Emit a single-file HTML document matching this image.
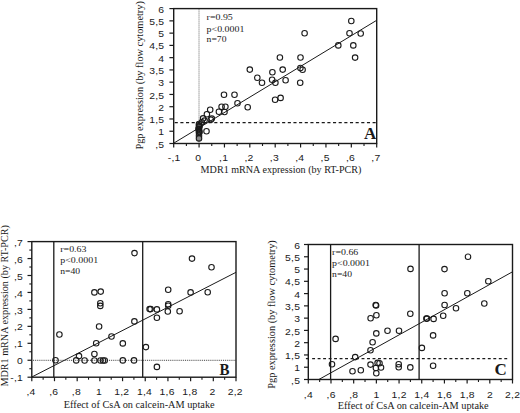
<!DOCTYPE html>
<html><head><meta charset="utf-8"><style>
html,body{margin:0;padding:0;background:#fff;}
svg{display:block;}
.tk{font-family:"Liberation Sans",sans-serif;font-size:8.8px;letter-spacing:0.2px;fill:#1a1a1a;}
.st{font-family:"Liberation Serif",serif;font-size:9px;fill:#1a1a1a;}
.ax{font-family:"Liberation Serif",serif;font-size:10px;fill:#1a1a1a;}
.big{font-family:"Liberation Serif",serif;font-size:17px;font-weight:bold;fill:#1a1a1a;}
</style></head><body>
<svg width="520" height="413" viewBox="0 0 520 413">
<rect width="520" height="413" fill="#fff"/>
<line x1="199.0" y1="8.6" x2="199.0" y2="143.5" stroke="#666" stroke-width="1" stroke-dasharray="1 1"/>
<line x1="174.7" y1="122.7" x2="375.8" y2="122.7" stroke="#1a1a1a" stroke-width="1.3" stroke-dasharray="3.1 2.554"/>
<line x1="173.7" y1="143.2" x2="376.7" y2="20.3" stroke="#1a1a1a" stroke-width="1"/>
<rect x="173.70" y="8.60" width="203.00" height="134.90" fill="none" stroke="#1a1a1a" stroke-width="1.4"/>
<line x1="169.40" y1="143.50" x2="173.70" y2="143.50" stroke="#1a1a1a" stroke-width="1.2"/>
<text transform="translate(164.30,147.60) scale(1.18,1)" text-anchor="end" class="tk">,5</text>
<line x1="169.40" y1="131.24" x2="173.70" y2="131.24" stroke="#1a1a1a" stroke-width="1.2"/>
<text transform="translate(164.30,135.34) scale(1.18,1)" text-anchor="end" class="tk">1</text>
<line x1="169.40" y1="118.97" x2="173.70" y2="118.97" stroke="#1a1a1a" stroke-width="1.2"/>
<text transform="translate(164.30,123.07) scale(1.18,1)" text-anchor="end" class="tk">1,5</text>
<line x1="169.40" y1="106.71" x2="173.70" y2="106.71" stroke="#1a1a1a" stroke-width="1.2"/>
<text transform="translate(164.30,110.81) scale(1.18,1)" text-anchor="end" class="tk">2</text>
<line x1="169.40" y1="94.45" x2="173.70" y2="94.45" stroke="#1a1a1a" stroke-width="1.2"/>
<text transform="translate(164.30,98.55) scale(1.18,1)" text-anchor="end" class="tk">2,5</text>
<line x1="169.40" y1="82.18" x2="173.70" y2="82.18" stroke="#1a1a1a" stroke-width="1.2"/>
<text transform="translate(164.30,86.28) scale(1.18,1)" text-anchor="end" class="tk">3</text>
<line x1="169.40" y1="69.92" x2="173.70" y2="69.92" stroke="#1a1a1a" stroke-width="1.2"/>
<text transform="translate(164.30,74.02) scale(1.18,1)" text-anchor="end" class="tk">3,5</text>
<line x1="169.40" y1="57.65" x2="173.70" y2="57.65" stroke="#1a1a1a" stroke-width="1.2"/>
<text transform="translate(164.30,61.75) scale(1.18,1)" text-anchor="end" class="tk">4</text>
<line x1="169.40" y1="45.39" x2="173.70" y2="45.39" stroke="#1a1a1a" stroke-width="1.2"/>
<text transform="translate(164.30,49.49) scale(1.18,1)" text-anchor="end" class="tk">4,5</text>
<line x1="169.40" y1="33.13" x2="173.70" y2="33.13" stroke="#1a1a1a" stroke-width="1.2"/>
<text transform="translate(164.30,37.23) scale(1.18,1)" text-anchor="end" class="tk">5</text>
<line x1="169.40" y1="20.86" x2="173.70" y2="20.86" stroke="#1a1a1a" stroke-width="1.2"/>
<text transform="translate(164.30,24.96) scale(1.18,1)" text-anchor="end" class="tk">5,5</text>
<line x1="169.40" y1="8.60" x2="173.70" y2="8.60" stroke="#1a1a1a" stroke-width="1.2"/>
<text transform="translate(164.30,12.70) scale(1.18,1)" text-anchor="end" class="tk">6</text>
<line x1="173.70" y1="143.50" x2="173.70" y2="147.50" stroke="#1a1a1a" stroke-width="1.2"/>
<text transform="translate(174.10,161.40) scale(1.18,1)" text-anchor="middle" class="tk">-,1</text>
<line x1="199.07" y1="143.50" x2="199.07" y2="147.50" stroke="#1a1a1a" stroke-width="1.2"/>
<text transform="translate(198.27,161.40) scale(1.18,1)" text-anchor="middle" class="tk">0</text>
<line x1="224.45" y1="143.50" x2="224.45" y2="147.50" stroke="#1a1a1a" stroke-width="1.2"/>
<text transform="translate(223.65,161.40) scale(1.18,1)" text-anchor="middle" class="tk">,1</text>
<line x1="249.82" y1="143.50" x2="249.82" y2="147.50" stroke="#1a1a1a" stroke-width="1.2"/>
<text transform="translate(249.02,161.40) scale(1.18,1)" text-anchor="middle" class="tk">,2</text>
<line x1="275.20" y1="143.50" x2="275.20" y2="147.50" stroke="#1a1a1a" stroke-width="1.2"/>
<text transform="translate(274.40,161.40) scale(1.18,1)" text-anchor="middle" class="tk">,3</text>
<line x1="300.57" y1="143.50" x2="300.57" y2="147.50" stroke="#1a1a1a" stroke-width="1.2"/>
<text transform="translate(299.77,161.40) scale(1.18,1)" text-anchor="middle" class="tk">,4</text>
<line x1="325.95" y1="143.50" x2="325.95" y2="147.50" stroke="#1a1a1a" stroke-width="1.2"/>
<text transform="translate(325.15,161.40) scale(1.18,1)" text-anchor="middle" class="tk">,5</text>
<line x1="351.32" y1="143.50" x2="351.32" y2="147.50" stroke="#1a1a1a" stroke-width="1.2"/>
<text transform="translate(350.52,161.40) scale(1.18,1)" text-anchor="middle" class="tk">,6</text>
<line x1="376.70" y1="143.50" x2="376.70" y2="147.50" stroke="#1a1a1a" stroke-width="1.2"/>
<text transform="translate(375.90,161.40) scale(1.18,1)" text-anchor="middle" class="tk">,7</text>
<line x1="186.39" y1="143.50" x2="186.39" y2="146.00" stroke="#1a1a1a" stroke-width="1.1"/>
<line x1="211.76" y1="143.50" x2="211.76" y2="146.00" stroke="#1a1a1a" stroke-width="1.1"/>
<line x1="237.14" y1="143.50" x2="237.14" y2="146.00" stroke="#1a1a1a" stroke-width="1.1"/>
<line x1="262.51" y1="143.50" x2="262.51" y2="146.00" stroke="#1a1a1a" stroke-width="1.1"/>
<line x1="287.89" y1="143.50" x2="287.89" y2="146.00" stroke="#1a1a1a" stroke-width="1.1"/>
<line x1="313.26" y1="143.50" x2="313.26" y2="146.00" stroke="#1a1a1a" stroke-width="1.1"/>
<line x1="338.64" y1="143.50" x2="338.64" y2="146.00" stroke="#1a1a1a" stroke-width="1.1"/>
<line x1="364.01" y1="143.50" x2="364.01" y2="146.00" stroke="#1a1a1a" stroke-width="1.1"/>
<text x="364.0" y="139.1" class="big">A</text>
<text x="206.6" y="20.4" class="st" textLength="26.2" lengthAdjust="spacingAndGlyphs">r=0.95</text>
<text x="206.6" y="31.8" class="st" textLength="37.8" lengthAdjust="spacingAndGlyphs">p&lt;0.0001</text>
<text x="206.6" y="42.4" class="st" textLength="19.9" lengthAdjust="spacingAndGlyphs">n=70</text>
<text x="200.6" y="172.8" class="ax" textLength="160.8" lengthAdjust="spacingAndGlyphs">MDR1 mRNA expression (by RT-PCR)</text>
<text transform="translate(142.7,149.6) rotate(-90)" class="ax" textLength="148.5" lengthAdjust="spacingAndGlyphs">Pgp expression (by flow cytometry)</text>
<line x1="33.0" y1="360.3" x2="236.0" y2="360.3" stroke="#444" stroke-width="1" stroke-dasharray="1 0.9"/>
<line x1="53.8" y1="241.6" x2="53.8" y2="377.2" stroke="#1a1a1a" stroke-width="1.3"/>
<line x1="142.7" y1="241.6" x2="142.7" y2="377.2" stroke="#1a1a1a" stroke-width="1.3"/>
<line x1="31.8" y1="377.0" x2="236.0" y2="272.3" stroke="#1a1a1a" stroke-width="1"/>
<rect x="31.80" y="241.60" width="204.20" height="135.60" fill="none" stroke="#1a1a1a" stroke-width="1.4"/>
<line x1="27.50" y1="377.20" x2="31.80" y2="377.20" stroke="#1a1a1a" stroke-width="1.2"/>
<text transform="translate(23.00,381.30) scale(1.18,1)" text-anchor="end" class="tk">-,1</text>
<line x1="27.50" y1="360.25" x2="31.80" y2="360.25" stroke="#1a1a1a" stroke-width="1.2"/>
<text transform="translate(23.00,364.35) scale(1.18,1)" text-anchor="end" class="tk">0</text>
<line x1="27.50" y1="343.30" x2="31.80" y2="343.30" stroke="#1a1a1a" stroke-width="1.2"/>
<text transform="translate(23.00,347.40) scale(1.18,1)" text-anchor="end" class="tk">,1</text>
<line x1="27.50" y1="326.35" x2="31.80" y2="326.35" stroke="#1a1a1a" stroke-width="1.2"/>
<text transform="translate(23.00,330.45) scale(1.18,1)" text-anchor="end" class="tk">,2</text>
<line x1="27.50" y1="309.40" x2="31.80" y2="309.40" stroke="#1a1a1a" stroke-width="1.2"/>
<text transform="translate(23.00,313.50) scale(1.18,1)" text-anchor="end" class="tk">,3</text>
<line x1="27.50" y1="292.45" x2="31.80" y2="292.45" stroke="#1a1a1a" stroke-width="1.2"/>
<text transform="translate(23.00,296.55) scale(1.18,1)" text-anchor="end" class="tk">,4</text>
<line x1="27.50" y1="275.50" x2="31.80" y2="275.50" stroke="#1a1a1a" stroke-width="1.2"/>
<text transform="translate(23.00,279.60) scale(1.18,1)" text-anchor="end" class="tk">,5</text>
<line x1="27.50" y1="258.55" x2="31.80" y2="258.55" stroke="#1a1a1a" stroke-width="1.2"/>
<text transform="translate(23.00,262.65) scale(1.18,1)" text-anchor="end" class="tk">,6</text>
<line x1="27.50" y1="241.60" x2="31.80" y2="241.60" stroke="#1a1a1a" stroke-width="1.2"/>
<text transform="translate(23.00,245.70) scale(1.18,1)" text-anchor="end" class="tk">,7</text>
<line x1="29.30" y1="368.72" x2="31.80" y2="368.72" stroke="#1a1a1a" stroke-width="1.1"/>
<line x1="29.30" y1="351.77" x2="31.80" y2="351.77" stroke="#1a1a1a" stroke-width="1.1"/>
<line x1="29.30" y1="334.82" x2="31.80" y2="334.82" stroke="#1a1a1a" stroke-width="1.1"/>
<line x1="29.30" y1="317.88" x2="31.80" y2="317.88" stroke="#1a1a1a" stroke-width="1.1"/>
<line x1="29.30" y1="300.93" x2="31.80" y2="300.93" stroke="#1a1a1a" stroke-width="1.1"/>
<line x1="29.30" y1="283.97" x2="31.80" y2="283.97" stroke="#1a1a1a" stroke-width="1.1"/>
<line x1="29.30" y1="267.02" x2="31.80" y2="267.02" stroke="#1a1a1a" stroke-width="1.1"/>
<line x1="29.30" y1="250.07" x2="31.80" y2="250.07" stroke="#1a1a1a" stroke-width="1.1"/>
<line x1="31.80" y1="377.20" x2="31.80" y2="381.20" stroke="#1a1a1a" stroke-width="1.2"/>
<text transform="translate(31.00,395.00) scale(1.18,1)" text-anchor="middle" class="tk">,4</text>
<line x1="54.49" y1="377.20" x2="54.49" y2="381.20" stroke="#1a1a1a" stroke-width="1.2"/>
<text transform="translate(53.69,395.00) scale(1.18,1)" text-anchor="middle" class="tk">,6</text>
<line x1="77.18" y1="377.20" x2="77.18" y2="381.20" stroke="#1a1a1a" stroke-width="1.2"/>
<text transform="translate(76.38,395.00) scale(1.18,1)" text-anchor="middle" class="tk">,8</text>
<line x1="99.87" y1="377.20" x2="99.87" y2="381.20" stroke="#1a1a1a" stroke-width="1.2"/>
<text transform="translate(99.07,395.00) scale(1.18,1)" text-anchor="middle" class="tk">1</text>
<line x1="122.56" y1="377.20" x2="122.56" y2="381.20" stroke="#1a1a1a" stroke-width="1.2"/>
<text transform="translate(121.76,395.00) scale(1.18,1)" text-anchor="middle" class="tk">1,2</text>
<line x1="145.24" y1="377.20" x2="145.24" y2="381.20" stroke="#1a1a1a" stroke-width="1.2"/>
<text transform="translate(144.44,395.00) scale(1.18,1)" text-anchor="middle" class="tk">1,4</text>
<line x1="167.93" y1="377.20" x2="167.93" y2="381.20" stroke="#1a1a1a" stroke-width="1.2"/>
<text transform="translate(167.13,395.00) scale(1.18,1)" text-anchor="middle" class="tk">1,6</text>
<line x1="190.62" y1="377.20" x2="190.62" y2="381.20" stroke="#1a1a1a" stroke-width="1.2"/>
<text transform="translate(189.82,395.00) scale(1.18,1)" text-anchor="middle" class="tk">1,8</text>
<line x1="213.31" y1="377.20" x2="213.31" y2="381.20" stroke="#1a1a1a" stroke-width="1.2"/>
<text transform="translate(212.51,395.00) scale(1.18,1)" text-anchor="middle" class="tk">2</text>
<line x1="236.00" y1="377.20" x2="236.00" y2="381.20" stroke="#1a1a1a" stroke-width="1.2"/>
<text transform="translate(235.20,395.00) scale(1.18,1)" text-anchor="middle" class="tk">2,2</text>
<line x1="43.14" y1="377.20" x2="43.14" y2="379.70" stroke="#1a1a1a" stroke-width="1.1"/>
<line x1="65.83" y1="377.20" x2="65.83" y2="379.70" stroke="#1a1a1a" stroke-width="1.1"/>
<line x1="88.52" y1="377.20" x2="88.52" y2="379.70" stroke="#1a1a1a" stroke-width="1.1"/>
<line x1="111.21" y1="377.20" x2="111.21" y2="379.70" stroke="#1a1a1a" stroke-width="1.1"/>
<line x1="133.90" y1="377.20" x2="133.90" y2="379.70" stroke="#1a1a1a" stroke-width="1.1"/>
<line x1="156.59" y1="377.20" x2="156.59" y2="379.70" stroke="#1a1a1a" stroke-width="1.1"/>
<line x1="179.28" y1="377.20" x2="179.28" y2="379.70" stroke="#1a1a1a" stroke-width="1.1"/>
<line x1="201.97" y1="377.20" x2="201.97" y2="379.70" stroke="#1a1a1a" stroke-width="1.1"/>
<line x1="224.66" y1="377.20" x2="224.66" y2="379.70" stroke="#1a1a1a" stroke-width="1.1"/>
<text x="219.6" y="375.0" class="big" textLength="10" lengthAdjust="spacingAndGlyphs">B</text>
<text x="60.3" y="251.7" class="st" textLength="26.2" lengthAdjust="spacingAndGlyphs">r=0.63</text>
<text x="60.3" y="263.0" class="st" textLength="37.8" lengthAdjust="spacingAndGlyphs">p&lt;0.0001</text>
<text x="60.3" y="274.3" class="st" textLength="19.9" lengthAdjust="spacingAndGlyphs">n=40</text>
<text x="63.8" y="407.6" class="ax" textLength="150.8" lengthAdjust="spacingAndGlyphs">Effect of CsA on calcein-AM uptake</text>
<text transform="translate(8.4,386.6) rotate(-90)" class="ax" textLength="161.5" lengthAdjust="spacingAndGlyphs">MDR1 mRNA expression (by RT-PCR)</text>
<line x1="312.15" y1="358.6" x2="507.3" y2="358.6" stroke="#1a1a1a" stroke-width="1.3" stroke-dasharray="2.9 2.59"/>
<line x1="305.9" y1="358.6" x2="308.3" y2="358.6" stroke="#1a1a1a" stroke-width="1.3"/>
<line x1="330.6" y1="244.5" x2="330.6" y2="379.5" stroke="#1a1a1a" stroke-width="1.3"/>
<line x1="419.1" y1="244.5" x2="419.1" y2="379.5" stroke="#1a1a1a" stroke-width="1.3"/>
<line x1="319.0" y1="379.4" x2="512.5" y2="271.8" stroke="#1a1a1a" stroke-width="1"/>
<rect x="308.30" y="244.50" width="204.20" height="135.00" fill="none" stroke="#1a1a1a" stroke-width="1.4"/>
<line x1="304.00" y1="379.50" x2="308.30" y2="379.50" stroke="#1a1a1a" stroke-width="1.2"/>
<text transform="translate(300.20,383.60) scale(1.18,1)" text-anchor="end" class="tk">,5</text>
<line x1="304.00" y1="367.23" x2="308.30" y2="367.23" stroke="#1a1a1a" stroke-width="1.2"/>
<text transform="translate(300.20,371.33) scale(1.18,1)" text-anchor="end" class="tk">1</text>
<line x1="304.00" y1="354.95" x2="308.30" y2="354.95" stroke="#1a1a1a" stroke-width="1.2"/>
<text transform="translate(300.20,359.05) scale(1.18,1)" text-anchor="end" class="tk">1,5</text>
<line x1="304.00" y1="342.68" x2="308.30" y2="342.68" stroke="#1a1a1a" stroke-width="1.2"/>
<text transform="translate(300.20,346.78) scale(1.18,1)" text-anchor="end" class="tk">2</text>
<line x1="304.00" y1="330.41" x2="308.30" y2="330.41" stroke="#1a1a1a" stroke-width="1.2"/>
<text transform="translate(300.20,334.51) scale(1.18,1)" text-anchor="end" class="tk">2,5</text>
<line x1="304.00" y1="318.14" x2="308.30" y2="318.14" stroke="#1a1a1a" stroke-width="1.2"/>
<text transform="translate(300.20,322.24) scale(1.18,1)" text-anchor="end" class="tk">3</text>
<line x1="304.00" y1="305.86" x2="308.30" y2="305.86" stroke="#1a1a1a" stroke-width="1.2"/>
<text transform="translate(300.20,309.96) scale(1.18,1)" text-anchor="end" class="tk">3,5</text>
<line x1="304.00" y1="293.59" x2="308.30" y2="293.59" stroke="#1a1a1a" stroke-width="1.2"/>
<text transform="translate(300.20,297.69) scale(1.18,1)" text-anchor="end" class="tk">4</text>
<line x1="304.00" y1="281.32" x2="308.30" y2="281.32" stroke="#1a1a1a" stroke-width="1.2"/>
<text transform="translate(300.20,285.42) scale(1.18,1)" text-anchor="end" class="tk">4,5</text>
<line x1="304.00" y1="269.05" x2="308.30" y2="269.05" stroke="#1a1a1a" stroke-width="1.2"/>
<text transform="translate(300.20,273.15) scale(1.18,1)" text-anchor="end" class="tk">5</text>
<line x1="304.00" y1="256.77" x2="308.30" y2="256.77" stroke="#1a1a1a" stroke-width="1.2"/>
<text transform="translate(300.20,260.87) scale(1.18,1)" text-anchor="end" class="tk">5,5</text>
<line x1="304.00" y1="244.50" x2="308.30" y2="244.50" stroke="#1a1a1a" stroke-width="1.2"/>
<text transform="translate(300.20,248.60) scale(1.18,1)" text-anchor="end" class="tk">6</text>
<line x1="308.30" y1="379.50" x2="308.30" y2="383.50" stroke="#1a1a1a" stroke-width="1.2"/>
<text transform="translate(308.40,397.60) scale(1.18,1)" text-anchor="middle" class="tk">,4</text>
<line x1="330.99" y1="379.50" x2="330.99" y2="383.50" stroke="#1a1a1a" stroke-width="1.2"/>
<text transform="translate(331.09,397.60) scale(1.18,1)" text-anchor="middle" class="tk">,6</text>
<line x1="353.68" y1="379.50" x2="353.68" y2="383.50" stroke="#1a1a1a" stroke-width="1.2"/>
<text transform="translate(353.78,397.60) scale(1.18,1)" text-anchor="middle" class="tk">,8</text>
<line x1="376.37" y1="379.50" x2="376.37" y2="383.50" stroke="#1a1a1a" stroke-width="1.2"/>
<text transform="translate(376.47,397.60) scale(1.18,1)" text-anchor="middle" class="tk">1</text>
<line x1="399.06" y1="379.50" x2="399.06" y2="383.50" stroke="#1a1a1a" stroke-width="1.2"/>
<text transform="translate(399.16,397.60) scale(1.18,1)" text-anchor="middle" class="tk">1,2</text>
<line x1="421.74" y1="379.50" x2="421.74" y2="383.50" stroke="#1a1a1a" stroke-width="1.2"/>
<text transform="translate(421.84,397.60) scale(1.18,1)" text-anchor="middle" class="tk">1,4</text>
<line x1="444.43" y1="379.50" x2="444.43" y2="383.50" stroke="#1a1a1a" stroke-width="1.2"/>
<text transform="translate(444.53,397.60) scale(1.18,1)" text-anchor="middle" class="tk">1,6</text>
<line x1="467.12" y1="379.50" x2="467.12" y2="383.50" stroke="#1a1a1a" stroke-width="1.2"/>
<text transform="translate(467.22,397.60) scale(1.18,1)" text-anchor="middle" class="tk">1,8</text>
<line x1="489.81" y1="379.50" x2="489.81" y2="383.50" stroke="#1a1a1a" stroke-width="1.2"/>
<text transform="translate(489.91,397.60) scale(1.18,1)" text-anchor="middle" class="tk">2</text>
<line x1="512.50" y1="379.50" x2="512.50" y2="383.50" stroke="#1a1a1a" stroke-width="1.2"/>
<text transform="translate(512.60,397.60) scale(1.18,1)" text-anchor="middle" class="tk">2,2</text>
<line x1="319.64" y1="379.50" x2="319.64" y2="382.00" stroke="#1a1a1a" stroke-width="1.1"/>
<line x1="342.33" y1="379.50" x2="342.33" y2="382.00" stroke="#1a1a1a" stroke-width="1.1"/>
<line x1="365.02" y1="379.50" x2="365.02" y2="382.00" stroke="#1a1a1a" stroke-width="1.1"/>
<line x1="387.71" y1="379.50" x2="387.71" y2="382.00" stroke="#1a1a1a" stroke-width="1.1"/>
<line x1="410.40" y1="379.50" x2="410.40" y2="382.00" stroke="#1a1a1a" stroke-width="1.1"/>
<line x1="433.09" y1="379.50" x2="433.09" y2="382.00" stroke="#1a1a1a" stroke-width="1.1"/>
<line x1="455.78" y1="379.50" x2="455.78" y2="382.00" stroke="#1a1a1a" stroke-width="1.1"/>
<line x1="478.47" y1="379.50" x2="478.47" y2="382.00" stroke="#1a1a1a" stroke-width="1.1"/>
<line x1="501.16" y1="379.50" x2="501.16" y2="382.00" stroke="#1a1a1a" stroke-width="1.1"/>
<text x="494.6" y="375.2" class="big">C</text>
<text x="332.1" y="254.7" class="st" textLength="26.2" lengthAdjust="spacingAndGlyphs">r=0.66</text>
<text x="332.1" y="266.0" class="st" textLength="37.8" lengthAdjust="spacingAndGlyphs">p&lt;0.0001</text>
<text x="332.1" y="277.3" class="st" textLength="19.9" lengthAdjust="spacingAndGlyphs">n=40</text>
<text x="337.7" y="408.5" class="ax" textLength="151" lengthAdjust="spacingAndGlyphs">Effect of CsA on calcein-AM uptake</text>
<text transform="translate(275.3,388.7) rotate(-90)" class="ax" textLength="148.5" lengthAdjust="spacingAndGlyphs">Pgp expression (by flow cytometry)</text>
<circle cx="199.0" cy="124.0" r="2.75" fill="none" stroke="#1a1a1a" stroke-width="1.1"/>
<circle cx="199.0" cy="125.5" r="2.75" fill="none" stroke="#1a1a1a" stroke-width="1.1"/>
<circle cx="199.0" cy="127.0" r="2.75" fill="none" stroke="#1a1a1a" stroke-width="1.1"/>
<circle cx="199.0" cy="128.5" r="2.75" fill="none" stroke="#1a1a1a" stroke-width="1.1"/>
<circle cx="199.0" cy="130.0" r="2.75" fill="none" stroke="#1a1a1a" stroke-width="1.1"/>
<circle cx="199.0" cy="131.5" r="2.75" fill="none" stroke="#1a1a1a" stroke-width="1.1"/>
<circle cx="199.0" cy="133.0" r="2.75" fill="none" stroke="#1a1a1a" stroke-width="1.1"/>
<circle cx="199.6" cy="126.0" r="2.75" fill="none" stroke="#1a1a1a" stroke-width="1.1"/>
<circle cx="198.5" cy="129.0" r="2.75" fill="none" stroke="#1a1a1a" stroke-width="1.1"/>
<circle cx="199.5" cy="132.0" r="2.75" fill="none" stroke="#1a1a1a" stroke-width="1.1"/>
<circle cx="199.0" cy="135.8" r="2.75" fill="none" stroke="#1a1a1a" stroke-width="1.1"/>
<circle cx="199.0" cy="138.4" r="2.75" fill="#8a8a8a" stroke="#1a1a1a" stroke-width="1.1"/>
<circle cx="210.2" cy="109.8" r="2.75" fill="none" stroke="#1a1a1a" stroke-width="1.1"/>
<circle cx="206.9" cy="114.3" r="2.75" fill="none" stroke="#1a1a1a" stroke-width="1.1"/>
<circle cx="203.1" cy="118.4" r="2.75" fill="none" stroke="#1a1a1a" stroke-width="1.1"/>
<circle cx="204.5" cy="120.6" r="2.75" fill="none" stroke="#1a1a1a" stroke-width="1.1"/>
<circle cx="211.8" cy="118.6" r="2.75" fill="none" stroke="#1a1a1a" stroke-width="1.1"/>
<circle cx="210.8" cy="119.8" r="2.75" fill="none" stroke="#1a1a1a" stroke-width="1.1"/>
<circle cx="206.5" cy="131.3" r="2.75" fill="none" stroke="#1a1a1a" stroke-width="1.1"/>
<circle cx="201.8" cy="122.3" r="2.75" fill="none" stroke="#1a1a1a" stroke-width="1.1"/>
<circle cx="218.9" cy="111.8" r="2.75" fill="none" stroke="#1a1a1a" stroke-width="1.1"/>
<circle cx="221.6" cy="106.7" r="2.75" fill="none" stroke="#1a1a1a" stroke-width="1.1"/>
<circle cx="225.4" cy="106.7" r="2.75" fill="none" stroke="#1a1a1a" stroke-width="1.1"/>
<circle cx="224.5" cy="112.0" r="2.75" fill="none" stroke="#1a1a1a" stroke-width="1.1"/>
<circle cx="224.0" cy="94.8" r="2.75" fill="none" stroke="#1a1a1a" stroke-width="1.1"/>
<circle cx="234.5" cy="94.8" r="2.75" fill="none" stroke="#1a1a1a" stroke-width="1.1"/>
<circle cx="237.5" cy="103.3" r="2.75" fill="none" stroke="#1a1a1a" stroke-width="1.1"/>
<circle cx="247.7" cy="107.2" r="2.75" fill="none" stroke="#1a1a1a" stroke-width="1.1"/>
<circle cx="249.8" cy="69.6" r="2.75" fill="none" stroke="#1a1a1a" stroke-width="1.1"/>
<circle cx="257.3" cy="77.8" r="2.75" fill="none" stroke="#1a1a1a" stroke-width="1.1"/>
<circle cx="262.0" cy="82.7" r="2.75" fill="none" stroke="#1a1a1a" stroke-width="1.1"/>
<circle cx="272.4" cy="72.3" r="2.75" fill="none" stroke="#1a1a1a" stroke-width="1.1"/>
<circle cx="272.1" cy="79.8" r="2.75" fill="none" stroke="#1a1a1a" stroke-width="1.1"/>
<circle cx="275.4" cy="82.8" r="2.75" fill="none" stroke="#1a1a1a" stroke-width="1.1"/>
<circle cx="282.7" cy="69.6" r="2.75" fill="none" stroke="#1a1a1a" stroke-width="1.1"/>
<circle cx="285.6" cy="80.2" r="2.75" fill="none" stroke="#1a1a1a" stroke-width="1.1"/>
<circle cx="275.1" cy="99.8" r="2.75" fill="none" stroke="#1a1a1a" stroke-width="1.1"/>
<circle cx="280.6" cy="97.9" r="2.75" fill="none" stroke="#1a1a1a" stroke-width="1.1"/>
<circle cx="279.9" cy="57.5" r="2.75" fill="none" stroke="#1a1a1a" stroke-width="1.1"/>
<circle cx="300.5" cy="57.5" r="2.75" fill="none" stroke="#1a1a1a" stroke-width="1.1"/>
<circle cx="300.4" cy="68.0" r="2.75" fill="none" stroke="#1a1a1a" stroke-width="1.1"/>
<circle cx="302.6" cy="69.8" r="2.75" fill="none" stroke="#1a1a1a" stroke-width="1.1"/>
<circle cx="300.2" cy="82.8" r="2.75" fill="none" stroke="#1a1a1a" stroke-width="1.1"/>
<circle cx="304.6" cy="33.2" r="2.75" fill="none" stroke="#1a1a1a" stroke-width="1.1"/>
<circle cx="351.3" cy="21.0" r="2.75" fill="none" stroke="#1a1a1a" stroke-width="1.1"/>
<circle cx="349.5" cy="33.2" r="2.75" fill="none" stroke="#1a1a1a" stroke-width="1.1"/>
<circle cx="360.7" cy="33.5" r="2.75" fill="none" stroke="#1a1a1a" stroke-width="1.1"/>
<circle cx="338.3" cy="45.4" r="2.75" fill="none" stroke="#1a1a1a" stroke-width="1.1"/>
<circle cx="353.3" cy="45.4" r="2.75" fill="none" stroke="#1a1a1a" stroke-width="1.1"/>
<circle cx="355.1" cy="57.6" r="2.75" fill="none" stroke="#1a1a1a" stroke-width="1.1"/>
<circle cx="59.4" cy="334.5" r="2.75" fill="none" stroke="#1a1a1a" stroke-width="1.1"/>
<circle cx="55.5" cy="360.3" r="2.75" fill="none" stroke="#1a1a1a" stroke-width="1.1"/>
<circle cx="76.2" cy="360.4" r="2.75" fill="none" stroke="#1a1a1a" stroke-width="1.1"/>
<circle cx="79.0" cy="356.1" r="2.75" fill="none" stroke="#1a1a1a" stroke-width="1.1"/>
<circle cx="84.6" cy="360.5" r="2.75" fill="none" stroke="#1a1a1a" stroke-width="1.1"/>
<circle cx="94.4" cy="354.0" r="2.75" fill="none" stroke="#1a1a1a" stroke-width="1.1"/>
<circle cx="94.4" cy="360.5" r="2.75" fill="none" stroke="#1a1a1a" stroke-width="1.1"/>
<circle cx="96.2" cy="343.3" r="2.75" fill="none" stroke="#1a1a1a" stroke-width="1.1"/>
<circle cx="100.5" cy="360.5" r="2.75" fill="none" stroke="#1a1a1a" stroke-width="1.1"/>
<circle cx="103.0" cy="360.5" r="2.75" fill="none" stroke="#1a1a1a" stroke-width="1.1"/>
<circle cx="104.7" cy="360.5" r="2.75" fill="none" stroke="#1a1a1a" stroke-width="1.1"/>
<circle cx="111.5" cy="336.5" r="2.75" fill="none" stroke="#1a1a1a" stroke-width="1.1"/>
<circle cx="94.4" cy="292.4" r="2.75" fill="none" stroke="#1a1a1a" stroke-width="1.1"/>
<circle cx="100.7" cy="291.6" r="2.75" fill="none" stroke="#1a1a1a" stroke-width="1.1"/>
<circle cx="100.3" cy="303.3" r="2.75" fill="none" stroke="#1a1a1a" stroke-width="1.1"/>
<circle cx="100.3" cy="305.9" r="2.75" fill="none" stroke="#1a1a1a" stroke-width="1.1"/>
<circle cx="99.1" cy="326.5" r="2.75" fill="none" stroke="#1a1a1a" stroke-width="1.1"/>
<circle cx="122.8" cy="343.4" r="2.75" fill="none" stroke="#1a1a1a" stroke-width="1.1"/>
<circle cx="122.8" cy="360.4" r="2.75" fill="none" stroke="#1a1a1a" stroke-width="1.1"/>
<circle cx="134.0" cy="360.4" r="2.75" fill="none" stroke="#1a1a1a" stroke-width="1.1"/>
<circle cx="134.4" cy="321.4" r="2.75" fill="none" stroke="#1a1a1a" stroke-width="1.1"/>
<circle cx="134.5" cy="253.1" r="2.75" fill="none" stroke="#1a1a1a" stroke-width="1.1"/>
<circle cx="145.9" cy="347.1" r="2.75" fill="none" stroke="#1a1a1a" stroke-width="1.1"/>
<circle cx="156.9" cy="366.9" r="2.75" fill="none" stroke="#1a1a1a" stroke-width="1.1"/>
<circle cx="156.9" cy="317.7" r="2.75" fill="none" stroke="#1a1a1a" stroke-width="1.1"/>
<circle cx="149.6" cy="309.1" r="2.75" fill="none" stroke="#1a1a1a" stroke-width="1.1"/>
<circle cx="150.6" cy="309.1" r="2.75" fill="none" stroke="#1a1a1a" stroke-width="1.1"/>
<circle cx="156.9" cy="309.4" r="2.75" fill="none" stroke="#1a1a1a" stroke-width="1.1"/>
<circle cx="168.2" cy="289.7" r="2.75" fill="none" stroke="#1a1a1a" stroke-width="1.1"/>
<circle cx="168.2" cy="304.2" r="2.75" fill="none" stroke="#1a1a1a" stroke-width="1.1"/>
<circle cx="168.2" cy="305.8" r="2.75" fill="none" stroke="#1a1a1a" stroke-width="1.1"/>
<circle cx="167.8" cy="311.5" r="2.75" fill="none" stroke="#1a1a1a" stroke-width="1.1"/>
<circle cx="179.6" cy="311.2" r="2.75" fill="none" stroke="#1a1a1a" stroke-width="1.1"/>
<circle cx="190.6" cy="292.4" r="2.75" fill="none" stroke="#1a1a1a" stroke-width="1.1"/>
<circle cx="192.0" cy="258.6" r="2.75" fill="none" stroke="#1a1a1a" stroke-width="1.1"/>
<circle cx="207.7" cy="292.3" r="2.75" fill="none" stroke="#1a1a1a" stroke-width="1.1"/>
<circle cx="211.5" cy="267.3" r="2.75" fill="none" stroke="#1a1a1a" stroke-width="1.1"/>
<circle cx="335.6" cy="338.9" r="2.75" fill="none" stroke="#1a1a1a" stroke-width="1.1"/>
<circle cx="332.0" cy="364.3" r="2.75" fill="none" stroke="#1a1a1a" stroke-width="1.1"/>
<circle cx="355.2" cy="357.1" r="2.75" fill="none" stroke="#1a1a1a" stroke-width="1.1"/>
<circle cx="352.5" cy="371.2" r="2.75" fill="none" stroke="#1a1a1a" stroke-width="1.1"/>
<circle cx="360.8" cy="370.2" r="2.75" fill="none" stroke="#1a1a1a" stroke-width="1.1"/>
<circle cx="370.5" cy="364.6" r="2.75" fill="none" stroke="#1a1a1a" stroke-width="1.1"/>
<circle cx="377.6" cy="362.9" r="2.75" fill="none" stroke="#1a1a1a" stroke-width="1.1"/>
<circle cx="379.5" cy="363.3" r="2.75" fill="none" stroke="#1a1a1a" stroke-width="1.1"/>
<circle cx="375.9" cy="368.0" r="2.75" fill="none" stroke="#1a1a1a" stroke-width="1.1"/>
<circle cx="381.0" cy="367.5" r="2.75" fill="none" stroke="#1a1a1a" stroke-width="1.1"/>
<circle cx="376.3" cy="373.3" r="2.75" fill="none" stroke="#1a1a1a" stroke-width="1.1"/>
<circle cx="370.5" cy="350.2" r="2.75" fill="none" stroke="#1a1a1a" stroke-width="1.1"/>
<circle cx="372.6" cy="342.3" r="2.75" fill="none" stroke="#1a1a1a" stroke-width="1.1"/>
<circle cx="376.3" cy="333.4" r="2.75" fill="none" stroke="#1a1a1a" stroke-width="1.1"/>
<circle cx="387.5" cy="330.8" r="2.75" fill="none" stroke="#1a1a1a" stroke-width="1.1"/>
<circle cx="399.0" cy="330.8" r="2.75" fill="none" stroke="#1a1a1a" stroke-width="1.1"/>
<circle cx="370.6" cy="318.2" r="2.75" fill="none" stroke="#1a1a1a" stroke-width="1.1"/>
<circle cx="376.4" cy="315.3" r="2.75" fill="none" stroke="#1a1a1a" stroke-width="1.1"/>
<circle cx="375.7" cy="305.0" r="2.75" fill="none" stroke="#1a1a1a" stroke-width="1.1"/>
<circle cx="376.1" cy="305.5" r="2.75" fill="none" stroke="#1a1a1a" stroke-width="1.1"/>
<circle cx="398.7" cy="364.3" r="2.75" fill="none" stroke="#1a1a1a" stroke-width="1.1"/>
<circle cx="398.7" cy="367.2" r="2.75" fill="none" stroke="#1a1a1a" stroke-width="1.1"/>
<circle cx="410.3" cy="367.4" r="2.75" fill="none" stroke="#1a1a1a" stroke-width="1.1"/>
<circle cx="410.3" cy="313.7" r="2.75" fill="none" stroke="#1a1a1a" stroke-width="1.1"/>
<circle cx="410.5" cy="268.9" r="2.75" fill="none" stroke="#1a1a1a" stroke-width="1.1"/>
<circle cx="421.9" cy="347.9" r="2.75" fill="none" stroke="#1a1a1a" stroke-width="1.1"/>
<circle cx="433.1" cy="335.4" r="2.75" fill="none" stroke="#1a1a1a" stroke-width="1.1"/>
<circle cx="433.1" cy="365.7" r="2.75" fill="none" stroke="#1a1a1a" stroke-width="1.1"/>
<circle cx="426.4" cy="318.6" r="2.75" fill="none" stroke="#1a1a1a" stroke-width="1.1"/>
<circle cx="427.0" cy="318.6" r="2.75" fill="none" stroke="#1a1a1a" stroke-width="1.1"/>
<circle cx="433.6" cy="318.9" r="2.75" fill="none" stroke="#1a1a1a" stroke-width="1.1"/>
<circle cx="443.2" cy="315.7" r="2.75" fill="none" stroke="#1a1a1a" stroke-width="1.1"/>
<circle cx="444.6" cy="305.0" r="2.75" fill="none" stroke="#1a1a1a" stroke-width="1.1"/>
<circle cx="444.6" cy="293.3" r="2.75" fill="none" stroke="#1a1a1a" stroke-width="1.1"/>
<circle cx="444.5" cy="269.1" r="2.75" fill="none" stroke="#1a1a1a" stroke-width="1.1"/>
<circle cx="456.0" cy="308.2" r="2.75" fill="none" stroke="#1a1a1a" stroke-width="1.1"/>
<circle cx="467.3" cy="293.3" r="2.75" fill="none" stroke="#1a1a1a" stroke-width="1.1"/>
<circle cx="468.0" cy="256.8" r="2.75" fill="none" stroke="#1a1a1a" stroke-width="1.1"/>
<circle cx="484.3" cy="303.5" r="2.75" fill="none" stroke="#1a1a1a" stroke-width="1.1"/>
<circle cx="488.3" cy="281.2" r="2.75" fill="none" stroke="#1a1a1a" stroke-width="1.1"/>
</svg></body></html>
